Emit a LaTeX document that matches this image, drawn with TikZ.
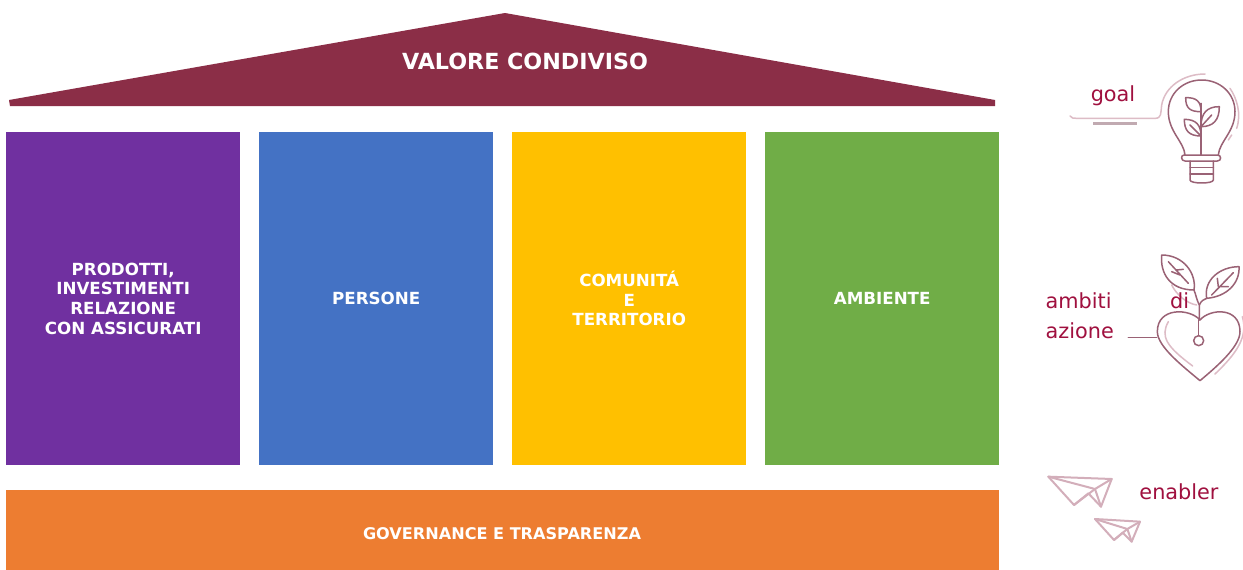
\documentclass[tikz,border=0pt]{standalone}
\usepackage{fontspec}
\setmainfont{DejaVu Sans}
\definecolor{roof}{HTML}{8B2E47}
\definecolor{cpurple}{HTML}{7030A0}
\definecolor{cblue}{HTML}{4472C4}
\definecolor{cyellow}{HTML}{FFC000}
\definecolor{cgreen}{HTML}{70AD47}
\definecolor{corange}{HTML}{ED7D31}
\definecolor{wine}{HTML}{A0103F}
\definecolor{iconline}{HTML}{9A6275}
\definecolor{iconsoft}{HTML}{DDBCC6}
\tikzset{
  pillar/.style={draw=none,minimum width=234pt,minimum height=333pt,inner sep=0pt,anchor=north west,
    text=white,align=center,font=\fontsize{16.7}{19.6}\selectfont\bfseries},
  sidelabel/.style={text=wine,inner sep=0pt,font=\fontsize{20.8}{36}\selectfont},
  ic/.style={draw=iconline,line width=1.5pt,line join=round,line cap=round},
  icsoft/.style={draw=iconsoft,line width=1.5pt,line join=round,line cap=round},
  plane/.style={draw=iconsoft!85!iconline,line width=2pt,line join=round,line cap=round}
}
\begin{document}
\begin{tikzpicture}[x=1pt,y=-1pt]
\useasboundingbox (0,0) rectangle (1243,570);
\fill[white] (0,0) rectangle (1243,570);
% roof
\fill[roof] (9,100) -- (505,13) -- (995,100) -- (995,106) -- (10,106) -- cycle;
\node[text=white,font=\fontsize{22.2}{24}\selectfont\bfseries,inner sep=0pt] (title) at (525,61) {VALORE CONDIVISO};
% pillars
\node[pillar,fill=cpurple] (p1) at (6,132) {PRODOTTI,\\INVESTIMENTI\\RELAZIONE\\CON ASSICURATI};
\node[pillar,fill=cblue] (p2) at (259,132) {PERSONE};
\node[pillar,fill=cyellow] (p3) at (512,132) {COMUNITÁ\\E\\TERRITORIO};
\node[pillar,fill=cgreen] (p4) at (765,132) {AMBIENTE};
\node[draw=none,fill=corange,minimum width=993pt,minimum height=80pt,inner sep=0pt,anchor=north west] (base) at (6,490) {};
\node[text=white,font=\fontsize{16.1}{18}\selectfont\bfseries,inner sep=0pt] (basetext) at (502,534) {GOVERNANCE E TRASPARENZA};
% bulb icon
\begin{scope}[shift={(1040,60)},scale=1/3]
  \draw[icsoft] (90,168) .. controls (95,175) and (100,175) .. (110,175) -- (345,175) .. controls (365,175) and (362,160) .. (365,135) .. controls (375,80) and (430,42) .. (495,42);
  \draw[iconsoft!70!gray,line width=2.6pt] (160,190) -- (292,190);
  \draw[icsoft] (570,85) .. controls (590,115) and (605,160) .. (590,205);
  \draw[icsoft] (575,225) -- (565,240);
  \draw[ic] (435,285) .. controls (432,245) and (385,215) .. (385,155) .. controls (385,100) and (430,60) .. (485,60) .. controls (540,60) and (585,100) .. (585,155) .. controls (585,215) and (538,245) .. (535,285);
  \draw[ic] (432,285) -- (532,285) .. controls (545,285) and (545,303) .. (532,303) -- (435,303) .. controls (422,303) and (422,285) .. (432,285);
  \draw[ic] (450,303) -- (450,360) .. controls (450,372) and (520,372) .. (520,360) -- (520,303);
  \draw[ic] (450,322) -- (520,322) (450,342) -- (520,342);
  \draw[ic] (483,285) -- (483,130);
  \draw[ic] (483,155) .. controls (450,155) and (437,145) .. (437,113) .. controls (470,112) and (483,125) .. (483,155);
  \draw[ic] (483,200) .. controls (520,200) and (538,180) .. (538,140) .. controls (500,140) and (483,160) .. (483,200);
  \draw[ic] (483,228) .. controls (445,228) and (433,210) .. (433,178) .. controls (468,178) and (483,195) .. (483,228);
  \draw[ic] (483,200) -- (515,165);
  \draw[ic] (483,228) -- (450,195);
\end{scope}
% heart icon
\begin{scope}[shift={(1040,240)},scale=1/3]
  \draw[icsoft] (395,135) .. controls (410,165) and (440,190) .. (470,195);
  \draw[ic] (265,292) -- (350,292);
  \draw[ic] (480,240) .. controls (450,205) and (352,200) .. (352,275) .. controls (352,320) and (430,380) .. (480,422) .. controls (530,380) and (600,320) .. (600,275) .. controls (600,200) and (510,205) .. (480,240);
  \draw[icsoft] (385,245) .. controls (360,290) and (380,320) .. (458,378);
  \draw[icsoft] (607,230) .. controls (625,290) and (590,340) .. (525,402);
  \draw[ic] (476,240) -- (476,285);
  \draw[ic] (476,302) circle (15);
  \draw[ic] (478,240) -- (478,195) .. controls (470,180) and (468,165) .. (462,150) .. controls (470,100) and (430,45) .. (365,45) .. controls (360,100) and (390,150) .. (462,150);
  \draw[ic] (478,195) .. controls (485,180) and (490,180) .. (500,175) .. controls (560,170) and (600,130) .. (597,80) .. controls (540,80) and (490,120) .. (500,175);
  \draw[ic] (385,65) -- (445,130) (410,90) -- (430,88) (395,95) -- (420,105);
  \draw[ic] (515,165) -- (580,98) (540,140) -- (565,140) (535,140) -- (532,115);
\end{scope}
% planes
\begin{scope}[shift={(1040,465)},scale=1/3]
  \draw[plane] (25,35) -- (215,42) -- (183,125) -- (145,85) -- (102,120) -- cycle;
  \draw[plane] (25,35) -- (165,72) -- (215,42);
  \draw[plane] (165,72) -- (183,125);
  \draw[plane] (102,120) -- (165,72);
  \draw[plane] (165,162) -- (300,170) -- (275,230) -- (248,203) -- (222,225) -- cycle;
  \draw[plane] (165,162) -- (262,192) -- (300,170);
  \draw[plane] (262,192) -- (275,230);
  \draw[plane] (222,225) -- (262,192);
\end{scope}
% side labels
\node[sidelabel] (goal) at (1113,96) {goal};
\node[sidelabel,anchor=west] (amb) at (1045.5,301) {ambiti};
\node[sidelabel,anchor=west] (di) at (1170,301) {di};
\node[sidelabel,anchor=west] (az) at (1045.5,331) {azione};
\node[sidelabel] (en) at (1179,492) {enabler};
\end{tikzpicture}
\end{document}
